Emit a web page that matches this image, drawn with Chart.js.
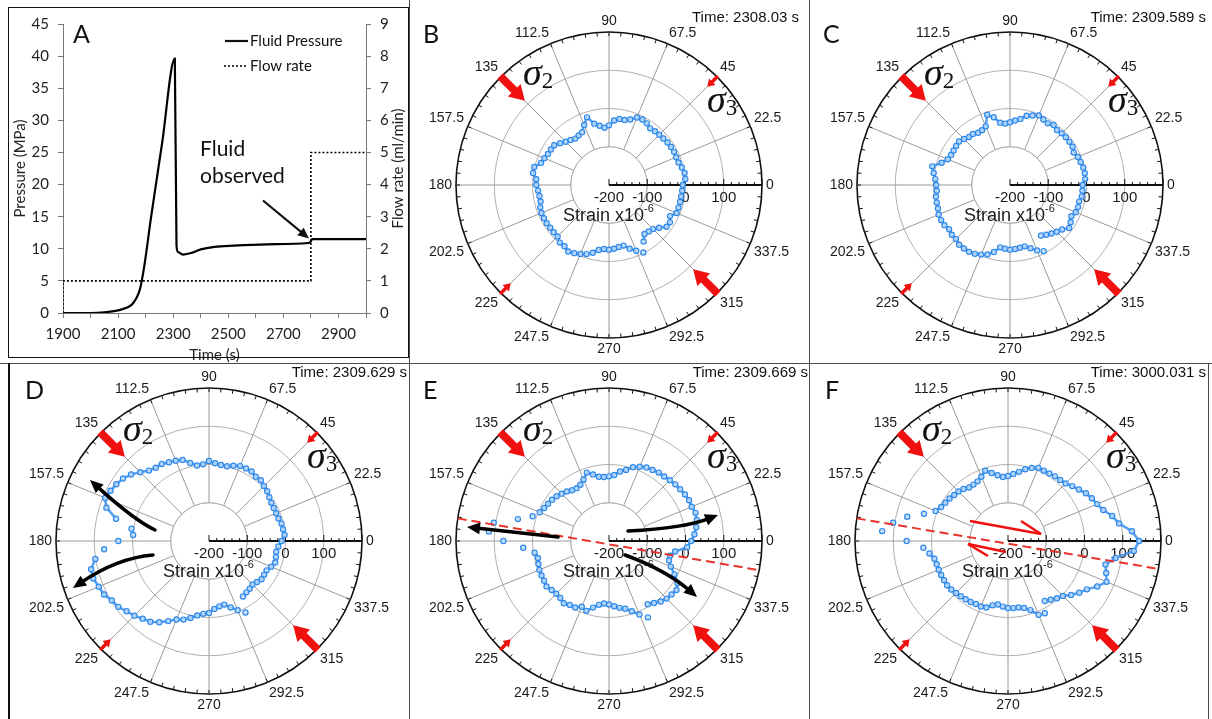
<!DOCTYPE html>
<html>
<head>
<meta charset="utf-8">
<title>Fluid pressure and strain polar plots</title>
<script src="https://cdn.jsdelivr.net/npm/chart.js@4.4.1/dist/chart.umd.min.js"></script>
<style>
  html, body { margin: 0; padding: 0; background: #fff; }
  #page { position: relative; width: 1212px; height: 719px; overflow: hidden; background: #fff; }
  canvas { position: absolute; }
  .rule { position: absolute; background: #4a4a4a; }
</style>
</head>
<body>
<div id="page">
  <canvas id="chartA" width="409" height="363" style="left:0px;top:0px"></canvas>
  <canvas id="chartB" width="400" height="363" style="left:409px;top:0px"></canvas>
  <canvas id="chartC" width="403" height="363" style="left:809px;top:0px"></canvas>
  <canvas id="chartD" width="400" height="356" style="left:9px;top:363px"></canvas>
  <canvas id="chartE" width="400" height="356" style="left:409px;top:363px"></canvas>
  <canvas id="chartF" width="399" height="356" style="left:809px;top:363px"></canvas>

  <div class="rule" style="left:8px;top:7px;width:401px;height:351px;background:none;border:1.5px solid #111;box-sizing:border-box"></div>
  <div class="rule" style="left:409px;top:0px;width:1px;height:719px"></div>
  <div class="rule" style="left:809px;top:0px;width:1px;height:719px"></div>
  <div class="rule" style="left:0px;top:363px;width:1212px;height:1px"></div>
  <div class="rule" style="left:8px;top:363px;width:2px;height:356px;background:#111"></div>
  <div class="rule" style="left:1208px;top:363px;width:1px;height:356px"></div>
</div>

<script>
// ---- PANEL A DATA ----
const timeS = [1900, 2000, 2050, 2100, 2130, 2150, 2165, 2180, 2195, 2220, 2260, 2306, 2312, 2318, 2336, 2370, 2400, 2450, 2520, 2640, 2790, 2797, 2805, 2900, 3000];
const pressureMPa = [0, 0, 0.1, 0.4, 0.8, 1.3, 2.2, 3.8, 7.3, 15, 26.5, 39.6, 10.5, 9.5, 9.1, 9.4, 9.9, 10.3, 10.5, 10.7, 10.9, 11.0, 11.5, 11.5, 11.5];
const flowTime = [1900, 1900, 2800, 2800, 3000];
const flowRate = [0, 1, 1, 5, 5];

// ---- POLAR DATA (strain x10^-6 at each rosette angle, degrees CCW from 0) ----
const ringAngles = [0, 4.5, 9, 13.5, 18, 22.5, 27, 31.5, 36, 40.5,
  45, 49.5, 54, 58.5, 63, 67.5, 72, 76.5, 81, 85.5,
  90, 94.5, 99, 103.5, 108, 112.5, 117, 121.5, 126, 130.5,
  135, 139.5, 144, 148.5, 153, 157.5, 162, 166.5, 171, 175.5,
  180, 184.5, 189, 193.5, 198, 202.5, 207, 211.5, 216, 220.5,
  225, 229.5, 234, 238.5, 243, 247.5, 252, 256.5, 261, 265.5,
  270, 274.5, 279, 283.5, 288, 292.5, 297, 301.5, 306, 310.5,
  315, 319.5, 324, 328.5, 333, 337.5, 342, 346.5, 351, 355.5];

const strainB = [-7, 0, 0, -4, -9, -10, -9, -10, -11, -13,
  -14, -15, -17, -11, -8, -9, -20, -25, -25, -31,
  -44, -50, -43, -35, -14, -30, -45, -48, -50, -45,
  -40, -32, -23, -22, -21, -17, -13, 1, 1, -9,
  -10, -14, -16, -16, -11, -9, -9, -9, -10, -10,
  -10, -2, -2, 4, 0, -5, -10, -18, -28, -32,
  -31, -33, -36, -37, -25, -14, -2, -27, -42, -40,
  -37, -28, -14, -13, -21, -9, -9, -9, -9, -8];

const strainC = [-10, -3, -2, -3, -6, -8, -13, -8, -8, -8,
  -9, -11, -6, -11, -8, -3, -9, -14, -25, -31,
  -36, -39, -35, -18, -7, -34, -39, -40, -35, -35,
  -30, -25, -26, -27, -27, -24, -12, 9, 2, -4,
  -7, -8, -4, -3, -2, 2, 2, 1, -3, 0,
  0, 5, 5, 5, 2, -3, -9, -20, -35, -33,
  -31, -32, -34, -35, -26, -15, -6, -45, -39, -33,
  -27, -21, -9, -14, -20, -14, -13, -14, -10, -10];

const strainD = [-10, -2, -4, -5, -9, -10, -10, -9, -5, 0,
  3, 9, 8, 13, 13, 12, 7, 1, 1, 4,
  9, 1, 0, 10, 23, 27, 31, 36, 37, 42,
  54, 68, 78, 84, 89, 94, 82, 50, 5, -1,
  37, 75, 101, 117, 118, 112, 108, 98, 93, 83,
  76, 67, 61, 49, 35, 22, 16, 7, -3, -9,
  -12, -22, -27, -29, -17, -4, 10, -30, -34, -36,
  -39, -35, -30, -31, -31, -24, -18, -20, -22, -18];

const strainE = [15, 24, 31, 36, 38, 34, 35, 33, 30, 28,
  25, 22, 21, 18, 16, 10, 3, -9, -16, -27,
  -31, -32, -30, -21, -12, -26, -35, -38, -36, -30,
  -25, -20, -16, -13, -10, -4, 10, 45, 105, 115,
  76, 25, -3, -9, -6, -3, -2, -1, 2, -3,
  -5, -4, 1, -4, -5, -14, -8, -21, -31, -36,
  -34, -29, -23, -18, -7, 8, 24, -6, 0, 8,
  13, 15, 18, 10, -8, -25, -35, -36, -25, 5];

const strainF = [143, 125, 94, 80, 62, 52, 46, 39, 29, 21,
  13, 10, 9, 7, 6, 7, 1, -7, -17, -24,
  -30, -32, -26, -17, -7, -18, -25, -27, -27, -21,
  -17, -15, -11, -8, -4, 5, 31, 71, 104, 130,
  65, 22, 8, -2, -4, -4, -4, -4, -3, -5,
  -8, -10, -12, -13, -15, -15, -17, -27, -32, -28,
  -25, -24, -24, -20, -10, 9, 12, -16, -10, -3,
  3, 17, 30, 42, 62, 79, 70, 62, 85, 130];

// angles whose readings stand apart from the continuous trace (sparse dots / loose ends)
const looseB = [297];
const looseC = [297];
const looseD = [171, 175.5, 180, 184.5, 297];
const looseE = [162, 166.5, 171, 175.5, 180, 184.5, 297];
const looseF = [162, 166.5, 171, 175.5, 180, 184.5, 297];

const radialTicks = [-200, -100, 0, 100];
const panelLetters = ['B', 'C', 'D', 'E', 'F'];
const panelTimes = ['2308.03', '2309.589', '2309.629', '2309.669', '3000.031'];

const BLUE = '#2f89ea';
const RED = '#f01010';

// ---- DRAW HELPERS ----
function blockArrow(ctx, x1, y1, x2, y2, shaft, headW, headL) {
  const a = Math.atan2(y2 - y1, x2 - x1);
  const len = Math.hypot(x2 - x1, y2 - y1);
  ctx.save();
  ctx.translate(x1, y1);
  ctx.rotate(a);
  ctx.fillStyle = RED;
  ctx.beginPath();
  ctx.moveTo(0, -shaft / 2);
  ctx.lineTo(len - headL, -shaft / 2);
  ctx.lineTo(len - headL, -headW / 2);
  ctx.lineTo(len, 0);
  ctx.lineTo(len - headL, headW / 2);
  ctx.lineTo(len - headL, shaft / 2);
  ctx.lineTo(0, shaft / 2);
  ctx.closePath();
  ctx.fill();
  ctx.restore();
}

function curvedArrow(ctx, p0, p1, p2, color, width, head) {
  const a = Math.atan2(p2[1] - p1[1], p2[0] - p1[0]);
  const ex = p2[0] - Math.cos(a) * head * 0.7;
  const ey = p2[1] - Math.sin(a) * head * 0.7;
  ctx.save();
  ctx.strokeStyle = color;
  ctx.fillStyle = color;
  ctx.lineWidth = width;
  ctx.lineCap = 'round';
  ctx.beginPath();
  ctx.moveTo(p0[0], p0[1]);
  ctx.quadraticCurveTo(p1[0], p1[1], ex, ey);
  ctx.stroke();
  const bx = p2[0] - Math.cos(a) * head, by = p2[1] - Math.sin(a) * head;
  const nx = -Math.sin(a) * head * 0.45, ny = Math.cos(a) * head * 0.45;
  ctx.beginPath();
  ctx.moveTo(p2[0], p2[1]);
  ctx.lineTo(bx + nx, by + ny);
  ctx.lineTo(bx - nx, by - ny);
  ctx.closePath();
  ctx.fill();
  ctx.restore();
}

function polarPt(cx, cy, deg, r) {
  const t = deg * Math.PI / 180;
  return [cx + r * Math.cos(t), cy - r * Math.sin(t)];
}

function dashedFracture(ctx, cx, cy, R, a1, a2) {
  const p = polarPt(cx, cy, a1, R), q = polarPt(cx, cy, a2, R);
  ctx.save();
  ctx.strokeStyle = '#e8322b';
  ctx.lineWidth = 2;
  ctx.setLineDash([9, 5]);
  ctx.beginPath();
  ctx.moveTo(p[0], p[1]);
  ctx.lineTo(q[0], q[1]);
  ctx.stroke();
  ctx.restore();
}

function rel(cx, cy, d) { return [cx + d[0], cy + d[1]]; }

// ---- PER PANEL ANNOTATIONS ----
const panelExtras = {
  D(ctx, cx, cy) {
    curvedArrow(ctx, rel(cx, cy, [-54, -11]), rel(cx, cy, [-75, -21]), rel(cx, cy, [-119, -61]), '#000', 3.5, 13);
    curvedArrow(ctx, rel(cx, cy, [-56, 14]), rel(cx, cy, [-92, 17]), rel(cx, cy, [-136, 47]), '#000', 3.5, 13);
  },
  E(ctx, cx, cy, R) {
    dashedFracture(ctx, cx, cy, R, 171.5, 349);
    curvedArrow(ctx, rel(cx, cy, [-51, -4]), rel(cx, cy, [-97, -9]), rel(cx, cy, [-142, -14]), '#000', 3.5, 13);
    curvedArrow(ctx, rel(cx, cy, [19, -10]), rel(cx, cy, [76, -13]), rel(cx, cy, [109, -26]), '#000', 3.5, 13);
    curvedArrow(ctx, rel(cx, cy, [16, 14]), rel(cx, cy, [57, 29]), rel(cx, cy, [88, 56]), '#000', 3.5, 13);
  },
  F(ctx, cx, cy, R) {
    dashedFracture(ctx, cx, cy, R, 171.5, 349.5);
    ctx.save();
    ctx.strokeStyle = RED;
    ctx.lineWidth = 2.5;
    const segs = [
      [[-38, -20], [33, -7]], [[33, -7], [13, -20]],
      [[-2, 11], [-40, 3]], [[-40, 3], [-20, 15]]
    ];
    segs.forEach(([a, b]) => {
      ctx.beginPath();
      ctx.moveTo(cx + a[0], cy + a[1]);
      ctx.lineTo(cx + b[0], cy + b[1]);
      ctx.stroke();
    });
    ctx.restore();
  }
};

// ---- POLAR DECORATION PLUGIN ----
function polarDecor(meta) {
  return {
    id: 'polarDecor',
    beforeDatasetsDraw(chart) {
      const s = chart.scales.r;
      const ctx = chart.ctx;
      const cx = s.xCenter, cy = s.yCenter, R = s.drawingArea;
      const rIn = s.getDistanceFromCenterForValue(-100);
      ctx.save();
      // empty hub inside the -100 circle
      ctx.fillStyle = '#fff';
      ctx.beginPath();
      ctx.arc(cx, cy, rIn - 0.5, 0, Math.PI * 2);
      ctx.fill();
      ctx.strokeStyle = '#b0b0b0';
      ctx.lineWidth = 1;
      ctx.beginPath();
      ctx.arc(cx, cy, rIn, 0, Math.PI * 2);
      ctx.stroke();

      // small ticks round the outer ring
      ctx.strokeStyle = '#111';
      for (let i = 0; i < chart.data.labels.length; i++) {
        const p = s.getPointPosition(i, R);
        const q = s.getPointPosition(i, R - 4);
        ctx.beginPath();
        ctx.moveTo(p.x, p.y);
        ctx.lineTo(q.x, q.y);
        ctx.stroke();
      }

      // strain axis along 0 deg
      const end = s.getPointPosition(0, R);
      ctx.lineWidth = 2;
      ctx.beginPath();
      ctx.moveTo(cx, cy);
      ctx.lineTo(end.x, end.y);
      ctx.stroke();
      ctx.lineWidth = 1;
      for (let v = -200; v <= 200; v += 20) {
        const d = s.getDistanceFromCenterForValue(v);
        const len = v % 100 === 0 ? 6 : 3;
        ctx.beginPath();
        ctx.moveTo(cx + d, cy);
        ctx.lineTo(cx + d, cy - len);
        ctx.stroke();
      }
      ctx.fillStyle = '#1a1a1a';
      ctx.font = '15px "Liberation Sans", Arial, sans-serif';
      ctx.textAlign = 'center';
      ctx.textBaseline = 'top';
      radialTicks.forEach(v => {
        ctx.fillText(String(v), cx + s.getDistanceFromCenterForValue(v), cy + 5);
      });
      ctx.textAlign = 'left';
      ctx.textBaseline = 'alphabetic';
      ctx.font = '18px "Liberation Sans", Arial, sans-serif';
      const base = 'Strain x10';
      ctx.fillText(base, cx - 46, cy + 36);
      const w = ctx.measureText(base).width;
      ctx.font = '11px "Liberation Sans", Arial, sans-serif';
      ctx.fillText('-6', cx - 46 + w, cy + 27);
      ctx.restore();
    },
    afterDatasetsDraw(chart) {
      const s = chart.scales.r;
      const ctx = chart.ctx;
      const cx = s.xCenter, cy = s.yCenter, R = s.drawingArea;

      if (panelExtras[meta.letter]) panelExtras[meta.letter](ctx, cx, cy, R);

      // principal stress arrows
      [[135, 35, 8, 18, 15], [315, 35, 8, 18, 15], [45, 15, 3.5, 9, 7], [225, 15, 3.5, 9, 7]].forEach(([deg, len, sh, hw, hl]) => {
        const p = polarPt(cx, cy, deg, R + 1);
        const q = polarPt(cx, cy, deg, R + 1 - len);
        blockArrow(ctx, p[0], p[1], q[0], q[1], sh, hw, hl);
      });

      ctx.save();
      ctx.fillStyle = '#111';
      ctx.textAlign = 'left';
      ctx.textBaseline = 'alphabetic';
      [['2', -86, -100], ['3', 98, -73]].forEach(([sub, dx, dy]) => {
        ctx.font = 'italic 38px "Liberation Serif", serif';
        ctx.fillText('\u03c3', cx + dx, cy + dy);
        const w = ctx.measureText('\u03c3').width;
        ctx.font = '23px "Liberation Serif", serif';
        ctx.fillText(sub, cx + dx + w, cy + dy + 3);
      });

      ctx.font = '15px "Liberation Sans", Arial, sans-serif';
      ctx.textAlign = 'right';
      ctx.fillText('Time: ' + meta.time + ' s', meta.timeX, meta.timeY);
      ctx.textAlign = 'left';
      ctx.font = '25px Lato, sans-serif';
      ctx.fillText(meta.letter, meta.letterX, cy - 142);
      ctx.restore();
    }
  };
}

function makePolar(id, strain, loose, meta) {
  const n = ringAngles.length;
  // radar runs clockwise from the top; rebuild the order so angles run CCW from the right
  const order = ringAngles.map((a, i) => (n - i) % n);
  const isLoose = j => loose.includes(ringAngles[j]);
  const markerStyle = {
    pointRadius: 2.6,
    pointBorderWidth: 1.2,
    pointBorderColor: BLUE,
    pointBackgroundColor: 'rgba(190,220,252,0.85)'
  };
  return new Chart(document.getElementById(id), {
    type: 'radar',
    data: {
      labels: order.map(j => ringAngles[j]),
      datasets: [
        Object.assign({
          data: order.map(j => (isLoose(j) ? null : strain[j])),
          fill: false,
          showLine: true,
          spanGaps: false,
          borderColor: 'rgba(60,145,235,0.85)',
          borderWidth: 2.6
        }, markerStyle),
        Object.assign({
          data: order.map(j => (isLoose(j) ? strain[j] : null)),
          fill: false,
          showLine: false
        }, markerStyle)
      ]
    },
    options: {
      responsive: false,
      animation: false,
      layout: { padding: meta.pad },
      plugins: { legend: { display: false }, tooltip: { enabled: false } },
      scales: {
        r: {
          min: -200,
          max: 200,
          startAngle: 90,
          ticks: { display: false, stepSize: 100 },
          grid: {
            circular: true,
            color: c => (c.tick && c.tick.value === 200 ? '#111' : '#b0b0b0'),
            lineWidth: c => (c.tick && c.tick.value === 200 ? 1.6 : 1)
          },
          angleLines: {
            color: '#9a9a9a',
            lineWidth: c => (c.index % 5 === 0 ? 1 : 0)
          },
          pointLabels: {
            font: { family: '"Liberation Sans", Arial, sans-serif', size: 14, lineHeight: 1 },
            color: '#1a1a1a',
            padding: 4,
            callback: label => (label % 22.5 === 0 ? String(label) : '')
          }
        }
      }
    },
    plugins: [polarDecor(meta)]
  });
}

// ---- PANEL A ----
const panelADecor = {
  id: 'panelADecor',
  afterDraw(chart) {
    const ctx = chart.ctx;
    const x = chart.scales.x, y = chart.scales.y;
    ctx.save();
    ctx.fillStyle = '#111';
    ctx.strokeStyle = '#111';
    ctx.textAlign = 'left';
    ctx.textBaseline = 'alphabetic';
    ctx.font = '25px Lato, sans-serif';
    ctx.fillText('A', 73, 43);

    // legend
    ctx.lineWidth = 2.2;
    ctx.beginPath(); ctx.moveTo(225, 41); ctx.lineTo(248, 41); ctx.stroke();
    ctx.lineWidth = 1.6;
    ctx.setLineDash([2, 2]);
    ctx.beginPath(); ctx.moveTo(224, 66); ctx.lineTo(248, 66); ctx.stroke();
    ctx.setLineDash([]);
    ctx.font = '15px Lato, sans-serif';
    ctx.textBaseline = 'middle';
    ctx.fillText('Fluid Pressure', 250, 41);
    ctx.fillText('Flow rate', 250, 66);

    // note and arrow
    ctx.textBaseline = 'alphabetic';
    ctx.font = '21px Lato, sans-serif';
    ctx.fillText('Fluid', 200, 156);
    ctx.fillText('observed', 200, 183);
    const tx = x.getPixelForValue(2793), ty = y.getPixelForValue(11.6);
    const sx = tx - 46, sy = ty - 38;
    const a = Math.atan2(ty - sy, tx - sx);
    ctx.lineWidth = 2.2;
    ctx.beginPath();
    ctx.moveTo(sx, sy);
    ctx.lineTo(tx - Math.cos(a) * 8, ty - Math.sin(a) * 8);
    ctx.stroke();
    ctx.beginPath();
    ctx.moveTo(tx, ty);
    ctx.lineTo(tx - Math.cos(a) * 11 - Math.sin(a) * 5, ty - Math.sin(a) * 11 + Math.cos(a) * 5);
    ctx.lineTo(tx - Math.cos(a) * 11 + Math.sin(a) * 5, ty - Math.sin(a) * 11 - Math.cos(a) * 5);
    ctx.closePath();
    ctx.fill();

    // right axis title reads bottom-to-top
    ctx.translate(398, (chart.chartArea.top + chart.chartArea.bottom) / 2);
    ctx.rotate(-Math.PI / 2);
    ctx.textAlign = 'center';
    ctx.textBaseline = 'middle';
    ctx.font = '15px Lato, sans-serif';
    ctx.fillStyle = '#222';
    ctx.fillText('Flow rate (ml/min)', 0, 0);
    ctx.restore();
  }
};

const axisGrid = { drawOnChartArea: false, drawTicks: true, tickLength: 5, color: '#777' };
const tickFont = { family: 'Lato, sans-serif', size: 15 };

new Chart(document.getElementById('chartA'), {
  type: 'line',
  data: {
    datasets: [
      {
        label: 'Fluid Pressure',
        data: timeS.map((t, i) => ({ x: t, y: pressureMPa[i] })),
        yAxisID: 'y',
        borderColor: '#000',
        borderWidth: 2.2,
        pointRadius: 0,
        cubicInterpolationMode: 'monotone',
        tension: 0.4
      },
      {
        label: 'Flow rate',
        data: flowTime.map((t, i) => ({ x: t, y: flowRate[i] })),
        yAxisID: 'y2',
        borderColor: '#000',
        borderWidth: 1.6,
        borderDash: [2, 2],
        pointRadius: 0,
        tension: 0
      }
    ]
  },
  options: {
    responsive: false,
    animation: false,
    layout: { padding: { top: 24, right: 0, bottom: 0, left: 0 } },
    plugins: { legend: { display: false }, tooltip: { enabled: false } },
    scales: {
      x: {
        type: 'linear',
        min: 1900,
        max: 3000,
        afterFit: s => { s.height = 50; },
        grid: axisGrid,
        border: { color: '#777' },
        ticks: {
          stepSize: 100,
          autoSkip: false,
          maxRotation: 0,
          padding: 7,
          color: '#222',
          font: tickFont,
          callback: v => ((v - 1900) % 200 === 0 ? String(v) : '')
        },
        title: { display: true, text: 'Time (s)', color: '#222', font: { family: 'Lato, sans-serif', size: 15, lineHeight: 1 }, padding: { top: 0, bottom: 0 } }
      },
      y: {
        position: 'left',
        min: 0,
        max: 45,
        afterFit: s => { s.width = 63; },
        grid: axisGrid,
        border: { color: '#777' },
        ticks: { stepSize: 5, padding: 9, color: '#222', font: tickFont },
        title: { display: true, text: 'Pressure (MPa)', color: '#222', font: { family: 'Lato, sans-serif', size: 15, lineHeight: 1 }, padding: { top: 13, bottom: 0 } }
      },
      y2: {
        position: 'right',
        min: 0,
        max: 9,
        afterFit: s => { s.width = 43; },
        grid: axisGrid,
        border: { color: '#777' },
        ticks: { stepSize: 1, padding: 9, color: '#222', font: tickFont }
      }
    }
  },
  plugins: [panelADecor]
});

// ---- PANELS B-F ----
const strainSets = [strainB, strainC, strainD, strainE, strainF];
const looseSets = [looseB, looseC, looseD, looseE, looseF];
const canvasIds = ['chartB', 'chartC', 'chartD', 'chartE', 'chartF'];
const timeRight = [390, 397, 398, 399, 397];
const timeBase = [22, 22, 14, 14, 14];
const letterLeft = [14, 14, 16, 14, 16];

canvasIds.forEach((id, k) => {
  makePolar(id, strainSets[k], looseSets[k], {
    letter: panelLetters[k],
    time: panelTimes[k],
    timeX: timeRight[k],
    timeY: timeBase[k],
    letterX: letterLeft[k],
    pad: k < 2 ? { top: 14, bottom: 7, left: 0, right: 0 } : { top: 7, bottom: 7, left: 0, right: 0 }
  });
});
</script>
</body>
</html>
